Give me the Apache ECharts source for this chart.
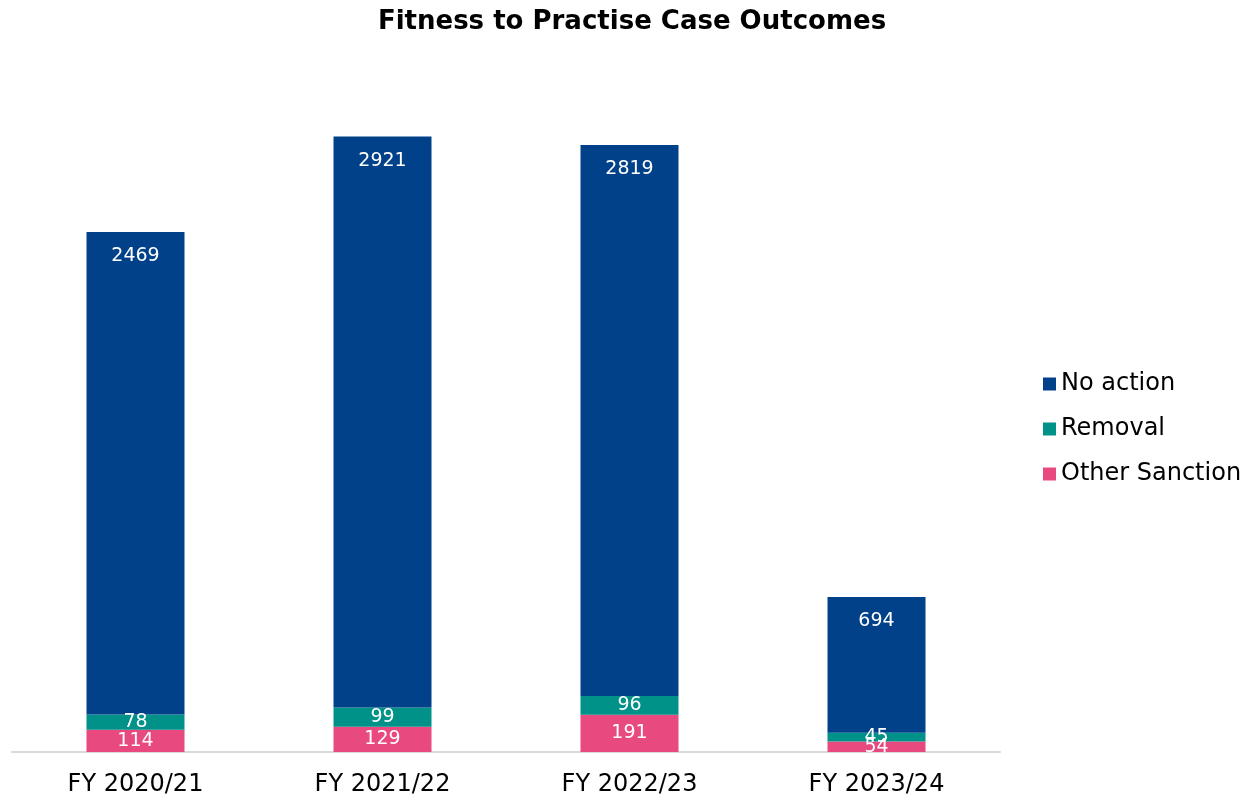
<!DOCTYPE html>
<html><head><meta charset="utf-8">
<script src="https://cdn.jsdelivr.net/npm/echarts@6/dist/echarts.min.js"></script>
<style>html,body{margin:0;padding:0;background:#fff}#c{width:1245px;height:799px}</style>
</head><body><div id="c"></div>
<script>
var categories = ['FY 2020/21', 'FY 2021/22', 'FY 2022/23', 'FY 2023/24'];
var otherSanction = [114, 129, 191, 54];
var removal = [78, 99, 96, 45];
var noAction = [2469, 2921, 2819, 694];

var FONT = '"DejaVu Sans", Verdana, sans-serif';
var chart = echarts.init(document.getElementById('c'));
var lbl = function (pos, dist) {
  return { show: true, position: pos, distance: dist, color: '#fff', fontSize: 19, fontFamily: FONT };
};
chart.setOption({
  animation: false,
  title: {
    text: 'Fitness to Practise Case Outcomes', left: 627, top: 4, textAlign: 'center',
    textStyle: { fontFamily: FONT, fontWeight: 'bold', fontSize: 26, color: '#000' }
  },
  legend: {
    orient: 'vertical', left: 1038, top: 367, itemWidth: 13, itemHeight: 13, itemGap: 21,
    icon: 'rect', data: ['No action', 'Removal', 'Other Sanction'],
    textStyle: { fontFamily: FONT, fontSize: 24, color: '#000' }
  },
  grid: { left: 12, right: 245, top: 68, bottom: 47, containLabel: false },
  xAxis: {
    type: 'category', data: categories,
    axisLine: { lineStyle: { color: '#d9d9d9', width: 2 } },
    axisTick: { show: false },
    axisLabel: { fontFamily: FONT, fontSize: 24, color: '#000', margin: 21 }
  },
  yAxis: { type: 'value', min: 0, max: 3500, show: false, splitLine: { show: false } },
  series: [
    { name: 'Other Sanction', type: 'bar', stack: 's', data: otherSanction, barWidth: 98,
      itemStyle: { color: '#E8497E' }, label: lbl('inside', 0) },
    { name: 'Removal', type: 'bar', stack: 's', data: removal,
      itemStyle: { color: '#009189' }, label: lbl('inside', 0) },
    { name: 'No action', type: 'bar', stack: 's', data: noAction,
      itemStyle: { color: '#00418A' }, label: lbl('insideTop', 15) }
  ]
});
</script></body></html>
